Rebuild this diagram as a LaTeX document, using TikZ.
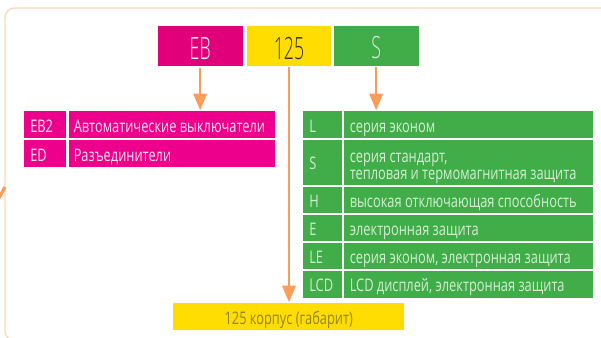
\documentclass[tikz,border=0pt]{standalone}
\usepackage{fontspec}
\setmainfont[FakeStretch=0.74]{Open Sans}
\newfontfamily\headfont[FakeStretch=0.58]{Open Sans Light}
\usetikzlibrary{arrows.meta}
\definecolor{pinkA}{HTML}{EC008C}
\definecolor{pinkB}{HTML}{E2007A}
\definecolor{greenA}{HTML}{41AD49}
\definecolor{yellowA}{HTML}{FFDD00}
\definecolor{arrowC}{HTML}{F99D5A}
\definecolor{frameC}{HTML}{FBD9BE}
\definecolor{softG}{HTML}{D5EDD5}
\definecolor{softP}{HTML}{FCE3F1}
\definecolor{oliveT}{HTML}{8F8430}
\tikzset{
  x=0.75pt,y=-0.75pt,
  cell/.style={anchor=north west,inner sep=0pt,outer sep=0pt,minimum height=#1*0.75pt},
  head/.style={font=\headfont\fontsize{23}{25}\selectfont,text height=19.2pt,text depth=0pt},
  small/.style={font=\fontsize{13}{12.8}\selectfont,anchor=base west,inner sep=0pt,align=left},
  pnk/.style={fill=pinkA,text=softP},
  grn/.style={fill=greenA,text=softG},
  arrowline/.style={draw=arrowC,line width=1.9pt,-{Triangle[length=12.5pt,width=10pt]},shorten >=0.5pt}
}
\begin{document}
\begin{tikzpicture}
\useasboundingbox (0,0) rectangle (601,338);
\draw[frameC,line width=1.1pt,rounded corners=7.5pt] (620,8) -- (5,8) -- (5,341) -- (30,341);
\coordinate (stubA) at (-1,198);
\coordinate (stubB) at (5,187);
\draw[arrowC,line width=2.4pt] (stubA) -- (stubB);
% header boxes
\node[cell=40,fill=pinkB,text=white,head,minimum width=64pt] (eb) at (157.5,26.5) {EB};
\node[cell=40,fill=yellowA,text=black!80,head,minimum width=63pt] (n125) at (247,26.5) {125};
\node[cell=40,fill=greenA,text=softG,head,minimum width=64pt] (s) at (333.5,26) {S};
% left table
\node[cell=27,pnk,minimum width=32.2pt] (a1) at (23.5,111) {};
\node[cell=27,pnk,minimum width=155pt] (a2) at (68.5,111) {};
\node[cell=27,pnk,minimum width=32.2pt] (b1) at (23.5,140) {};
\node[cell=27,pnk,minimum width=155pt] (b2) at (68.5,140) {};
\node[small,text=softP] (ta1) at (30,133) {EB2};
\node[small,text=softP] (ta2) at (73.5,133) {Автоматические выключатели};
\node[small,text=softP] (tb1) at (30,161.5) {ED};
\node[small,text=softP] (tb2) at (73.5,161.5) {Разъединители};
% right table
\foreach \nm/\y/\h in {c/111/27,d/140/45,e/187/26.5,f/215/26.5,g/243/26.5,h/271.5/27}{
  \node[cell=\h,grn,minimum width=29.3pt] (\nm1) at (303,\y) {};
  \node[cell=\h,grn,minimum width=186.8pt] (\nm2) at (344,\y) {};
}
\node[small,text=softG] (tc1) at (309,133) {L};
\node[small,text=softG] (tc2) at (349.5,133) {серия эконом};
\node[small,text=softG] (td1) at (309,170) {S};
\node[small,text=softG] (td2) at (349.5,180) {серия стандарт,\\тепловая и термомагнитная защита};
\node[small,text=softG] (te1) at (309,207.7) {H};
\node[small,text=softG] (te2) at (349.5,207.7) {высокая отключающая способность};
\node[small,text=softG] (tf1) at (309,235.7) {E};
\node[small,text=softG] (tf2) at (349.5,235.7) {электронная защита};
\node[small,text=softG] (tg1) at (309,263.7) {LE};
\node[small,text=softG] (tg2) at (349.5,263.7) {серия эконом, электронная защита};
\node[small,text=softG] (th1) at (309,291.7) {LCD};
\node[small,text=softG] (th2) at (349.5,291.7) {LCD дисплей, электронная защита};
% bottom
\node[cell=27,fill=yellowA,minimum width=173.6pt,text=oliveT,font=\fontsize{13}{14}\selectfont,text height=12.75pt,text depth=0pt] (bot) at (173,303) {125 корпус (габарит)};
% connectors
\draw[arrowline] (eb.south) ++(0,1.5) -- (eb.south |- a2.north);
\draw[arrowline] (n125.south) ++(0,1) -- (n125.south |- bot.north);
\draw[arrowline] (s.south) ++(0,1.5) -- (s.south |- c2.north);
\end{tikzpicture}
\end{document}
